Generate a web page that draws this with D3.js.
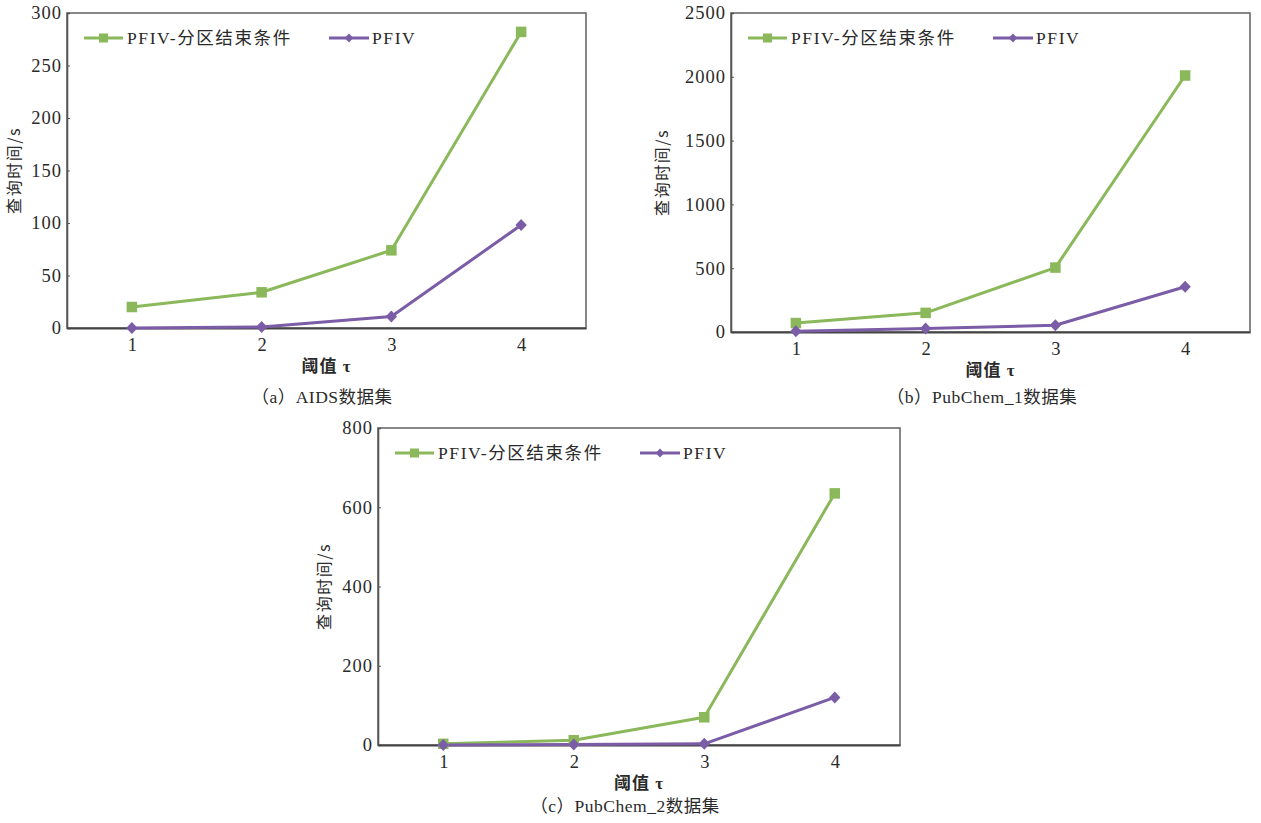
<!DOCTYPE html>
<html>
<head>
<meta charset="utf-8">
<script src="https://cdn.jsdelivr.net/npm/d3@7"></script>
<style>
  html, body { margin: 0; padding: 0; background: #fff; }
  svg { display: block; }
  text { fill: #2a2a2a; }
</style>
</head>
<body>
<svg id="chart" width="1261" height="823"></svg>
<script>
// ---------- data ----------
const taus = [1, 2, 3, 4];
const seriesNames = ["PFIV-分区结束条件", "PFIV"];

const aidsPartition = [20, 34, 74, 282];
const aidsPfiv = [0, 1, 11, 98];

const pub1Partition = [70, 150, 505, 2010];
const pub1Pfiv = [5, 27, 53, 355];

const pub2Partition = [3, 12, 70, 635];
const pub2Pfiv = [0, 1, 3, 120];

const yTicksA = [0, 50, 100, 150, 200, 250, 300];
const yTicksB = [0, 500, 1000, 1500, 2000, 2500];
const yTicksC = [0, 200, 400, 600, 800];

const xTitle = "阈值 τ";
const yTitle = "查询时间/s";
const captions = ["（a）AIDS数据集", "（b）PubChem_1数据集", "（c）PubChem_2数据集"];

// ---------- layout ----------
const colors = ["#8ab85a", "#7b5ca6"];
const mixFont = "'Liberation Serif', 'Noto Sans CJK SC', serif";
const panels = [
  { x0: 67, x1: 586, y0: 13, y1: 328, ticks: yTicksA, series: [aidsPartition, aidsPfiv], caption: captions[0], capX: 322, capY: 397, yTitleOff: 53 },
  { x0: 731, x1: 1250, y0: 13, y1: 332, ticks: yTicksB, series: [pub1Partition, pub1Pfiv], caption: captions[1], capX: 982, capY: 397, yTitleOff: 69 },
  { x0: 378, x1: 900, y0: 428, y1: 745, ticks: yTicksC, series: [pub2Partition, pub2Pfiv], caption: captions[2], capX: 625, capY: 806, yTitleOff: 54 }
];

const svg = d3.select("#chart");

function drawMarker(g, type, cx, cy, s, color) {
  if (type === 0) {
    g.append("rect").attr("x", cx - s / 2).attr("y", cy - s / 2)
      .attr("width", s).attr("height", s).attr("fill", color);
  } else {
    const h = s / 2;
    g.append("path")
      .attr("d", `M${cx},${cy - h}L${cx + h * 0.95},${cy}L${cx},${cy + h}L${cx - h * 0.95},${cy}Z`)
      .attr("fill", color);
  }
}

panels.forEach(p => {
  const g = svg.append("g");
  const x = d3.scaleLinear().domain([0.5, 4.5]).range([p.x0, p.x1]);
  const yMax = p.ticks[p.ticks.length - 1];
  const y = d3.scaleLinear().domain([0, yMax]).range([p.y1, p.y0]);

  // frame
  g.append("rect").attr("x", p.x0).attr("y", p.y0)
    .attr("width", p.x1 - p.x0).attr("height", p.y1 - p.y0)
    .attr("fill", "none").attr("stroke", "#6a6a6a").attr("stroke-width", 1.6);

  // y axis
  const yAxis = d3.axisLeft(y).tickValues(p.ticks).tickSize(-3).tickPadding(5).tickFormat(d3.format("d"));
  const ya = g.append("g").attr("transform", `translate(${p.x0},0)`).call(yAxis);
  ya.select(".domain").attr("stroke", "#555").attr("stroke-width", 1.6);
  ya.selectAll(".tick line").attr("stroke", "#555");
  ya.selectAll(".tick text").style("font-size", "18.5px").style("letter-spacing", "1px")
    .style("fill", "#2a2a2a").style("font-family", "'Liberation Serif', serif");

  // x axis
  const xAxis = d3.axisBottom(x).tickValues(taus).tickSize(0).tickPadding(10).tickFormat(d3.format("d"));
  const xa = g.append("g").attr("transform", `translate(0,${p.y1})`).call(xAxis);
  xa.select(".domain").attr("stroke", "#444").attr("stroke-width", 2);
  xa.selectAll(".tick text").style("font-size", "18.5px").style("fill", "#2a2a2a")
    .style("font-family", "'Liberation Serif', serif");

  // axis titles
  g.append("text").attr("x", (p.x0 + p.x1) / 2).attr("y", p.y1 + 44)
    .attr("text-anchor", "middle")
    .style("font-family", mixFont).style("font-size", "17px").style("font-weight", 700)
    .style("letter-spacing", "1px").text(xTitle);
  const cy = (p.y0 + p.y1) / 2;
  g.append("text")
    .attr("transform", `translate(${p.x0 - p.yTitleOff},${cy}) rotate(-90)`)
    .attr("text-anchor", "middle").attr("dy", "0.35em")
    .style("font-family", "'Noto Sans CJK SC', sans-serif")
    .style("font-size", "16px").style("letter-spacing", "1.5px").text(yTitle);

  // caption
  g.append("text").attr("x", p.capX).attr("y", p.capY).attr("dy", "0.35em")
    .attr("text-anchor", "middle")
    .style("font-family", mixFont).style("font-size", "17.5px").style("letter-spacing", "0.5px")
    .text(p.caption);

  // series
  const line = d3.line().x((d, i) => x(taus[i])).y(d => y(d));
  p.series.forEach((vals, si) => {
    g.append("path").datum(vals).attr("d", line)
      .attr("fill", "none").attr("stroke", colors[si]).attr("stroke-width", 3)
      .attr("stroke-linejoin", "round");
  });
  p.series.forEach((vals, si) => {
    vals.forEach((v, i) => drawMarker(g, si, x(taus[i]), y(v), si === 0 ? 10.5 : 12, colors[si]));
  });

  // legend
  const ly = p.y0 + 25;
  const lg = g.append("g");
  const items = [
    { l0: 17, l1: 56, tx: 60 },
    { l0: 262, l1: 302, tx: 305 }
  ];
  items.forEach((it, si) => {
    lg.append("line").attr("x1", p.x0 + it.l0).attr("x2", p.x0 + it.l1)
      .attr("y1", ly).attr("y2", ly).attr("stroke", colors[si]).attr("stroke-width", 3);
    drawMarker(lg, si, p.x0 + (it.l0 + it.l1) / 2, ly, 9, colors[si]);
    lg.append("text").attr("x", p.x0 + it.tx).attr("y", ly).attr("dy", "0.36em")
      .style("font-family", mixFont)
      .style("font-size", "17.5px").style("letter-spacing", "1.6px").text(seriesNames[si]);
  });
});
</script>
</body>
</html>
